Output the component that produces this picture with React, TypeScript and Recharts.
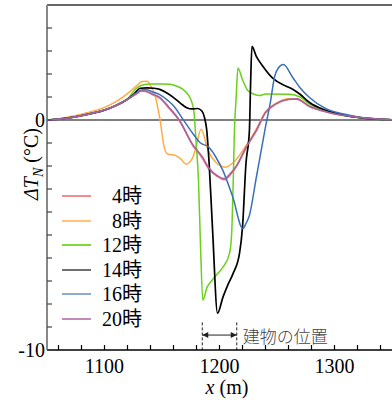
import { LineChart, Line, XAxis, YAxis, ReferenceLine, Legend } from 'recharts'

const SERIF = "'Liberation Serif', 'Times New Roman', 'Noto Sans CJK JP', serif"

// x positions (m) and temperature differences (°C) per hour
const H4_X = [1050, 1060, 1070, 1080, 1090, 1100, 1110, 1120, 1128, 1132, 1136, 1142, 1148, 1156, 1165, 1177, 1185, 1191, 1198, 1204, 1210, 1215, 1223, 1232, 1240, 1249, 1260, 1267, 1278, 1295, 1320, 1350]
const H4_Y = [0, 0.04, 0.1, 0.19, 0.3, 0.43, 0.63, 0.9, 1.15, 1.26, 1.24, 1.1, 0.95, 0.52, -0.02, -1.12, -1.65, -2.15, -2.45, -2.6, -2.35, -2.0, -1.22, -0.47, 0.31, 0.69, 0.89, 0.91, 0.6, 0.33, 0.12, 0.01]

const H8_X = [1050, 1060, 1070, 1080, 1090, 1100, 1110, 1120, 1127, 1133, 1137, 1140, 1144, 1148, 1152, 1155, 1162, 1166, 1171, 1176, 1179, 1184, 1190, 1197, 1205, 1212, 1223, 1232, 1240, 1249, 1260, 1268, 1278, 1295, 1320, 1350]
const H8_Y = [0, 0.06, 0.14, 0.25, 0.38, 0.55, 0.8, 1.15, 1.45, 1.67, 1.68, 1.5, 1.05, 0.1, -1.2, -1.48, -1.55, -1.68, -1.92, -1.7, -1.3, -0.4, -1.32, -1.85, -2.05, -1.85, -1.12, -0.4, 0.36, 0.72, 0.92, 0.9, 0.6, 0.33, 0.12, 0.01]

const H12_X = [1050, 1060, 1070, 1080, 1090, 1100, 1110, 1120, 1127, 1133, 1140, 1150, 1157, 1163, 1168, 1172, 1175, 1177.7, 1179.7, 1181.7, 1183.5, 1185.5, 1189, 1193, 1198, 1203, 1208.7, 1210.5, 1211.6, 1213, 1214.5, 1216, 1220, 1224.6, 1230, 1235, 1240, 1261, 1270, 1278, 1293, 1307, 1322, 1350]
const H12_Y = [0, 0.04, 0.1, 0.19, 0.3, 0.43, 0.63, 0.92, 1.35, 1.52, 1.57, 1.57, 1.55, 1.47, 1.34, 1.15, 0.9, 0.39, -1.0, -2.6, -5.5, -7.84, -7.3, -7.0, -6.7, -6.4, -5.8, -5.0, -3.35, -0.45, 1.0, 2.26, 1.75, 1.28, 1.12, 1.06, 1.13, 1.12, 1.0, 0.7, 0.38, 0.22, 0.1, 0.01]

const H14_X = [1050, 1060, 1070, 1080, 1090, 1100, 1110, 1120, 1126, 1131, 1137, 1143, 1148, 1155, 1162, 1168, 1172, 1176, 1181, 1184.5, 1187, 1188.8, 1191, 1194, 1198.3, 1203, 1207, 1211.6, 1217.4, 1220, 1223, 1226, 1227, 1228.2, 1232, 1237.7, 1246, 1258, 1264, 1270, 1278, 1293, 1307, 1322, 1350]
const H14_Y = [0, 0.04, 0.1, 0.19, 0.3, 0.43, 0.63, 0.9, 1.15, 1.38, 1.4, 1.38, 1.33, 1.15, 0.9, 0.65, 0.52, 0.48, 0.5, 0.4, 0.1, -0.4, -1.9, -4.8, -8.4, -7.7, -7.2, -6.7, -5.8, -4.66, -1.9, -0.47, 1.5, 3.2, 2.77, 2.34, 1.83, 1.47, 1.33, 1.12, 0.77, 0.41, 0.22, 0.1, 0.01]

const H16_X = [1050, 1060, 1070, 1080, 1090, 1100, 1110, 1120, 1128, 1132, 1136, 1142, 1148, 1155, 1160, 1168, 1177, 1183, 1191, 1197, 1203, 1211.6, 1220.3, 1223, 1226, 1232, 1236, 1240, 1244, 1248, 1251, 1255.5, 1263.7, 1270, 1278, 1293, 1307, 1322, 1350]
const H16_Y = [0, 0.04, 0.1, 0.19, 0.3, 0.43, 0.63, 0.9, 1.18, 1.3, 1.31, 1.22, 1.1, 0.85, 0.62, 0.05, -0.6, -0.98, -1.2, -1.63, -2.2, -3.36, -4.72, -4.5, -4.15, -2.5, -1.4, -0.3, 0.7, 1.9, 2.25, 2.41, 1.85, 1.4, 0.99, 0.48, 0.27, 0.12, 0.01]

const H20_X = H4_X
const H20_Y = [0, 0.04, 0.1, 0.19, 0.3, 0.43, 0.63, 0.9, 1.15, 1.27, 1.25, 1.12, 0.98, 0.55, 0.0, -1.1, -1.6, -2.1, -2.42, -2.55, -2.3, -1.97, -1.2, -0.45, 0.33, 0.7, 0.9, 0.92, 0.6, 0.33, 0.12, 0.01]

const X_TICKS = [1060, 1080, 1100, 1120, 1140, 1160, 1180, 1200, 1220, 1240, 1260, 1280, 1300, 1320, 1340]
const X_LABELS = [1100, 1200, 1300]
const Y_TICKS = [-10, -9, -8, -7, -6, -5, -4, -3, -2, -1, 0, 1, 2, 3, 4]
const Y_LABELS = [0, -10]
const BUILDING = [1185, 1215]

const zip = (xs: number[], ys: number[]) => xs.map((x, i) => ({ x, y: ys[i] }))

const SERIES = [
  { name: '4時', data: zip(H4_X, H4_Y), color: '#ee7b7b', legend: '#f28c8c', width: 1.6 },
  { name: '8時', data: zip(H8_X, H8_Y), color: '#ffab45', legend: '#ffc27a', width: 1.5 },
  { name: '12時', data: zip(H12_X, H12_Y), color: '#6ad01c', legend: '#80d83c', width: 1.5 },
  { name: '14時', data: zip(H14_X, H14_Y), color: '#000000', legend: '#707070', width: 1.7 },
  { name: '16時', data: zip(H16_X, H16_Y), color: '#3a70b8', legend: '#8eaad8', width: 1.5 },
  { name: '20時', data: zip(H20_X, H20_Y), color: '#a8639f', legend: '#c08abb', width: 1.6 },
]

const TICK_LEN = 5

// inward tick marks, drawn together with the (optional) label
const bottomTick = (p: any) => {
  const v = p.payload.value
  return (
    <g>
      <path d={`M${p.x},${p.y}V${p.y - TICK_LEN}`} stroke="#000" strokeWidth={1.2} fill="none" />
      {X_LABELS.includes(v) && (
        <text x={p.x} y={p.y + 23} textAnchor="middle" fontSize={20} fontFamily={SERIF} fill="#000">{v}</text>
      )}
    </g>
  )
}
const topTick = (p: any) => (
  <path d={`M${p.x},${p.y}V${p.y + TICK_LEN}`} stroke="#333" strokeWidth={1.2} fill="none" />
)
const leftTick = (p: any) => {
  const v = p.payload.value
  return (
    <g>
      <path d={`M${p.x},${p.y}H${p.x + TICK_LEN}`} stroke="#444" strokeWidth={1.2} fill="none" />
      {Y_LABELS.includes(v) && (
        <text x={p.x - 2} y={p.y + 7} textAnchor="end" fontSize={20} fontFamily={SERIF} fill="#000">{v}</text>
      )}
    </g>
  )
}
const rightTick = (p: any) => (
  <path d={`M${p.x},${p.y}H${p.x - TICK_LEN}`} stroke="#444" strokeWidth={1.2} fill="none" />
)

function BuildingArrow(p: any) {
  const { x1, y1, x2 } = p
  const l = Math.min(x1, x2)
  const r = Math.max(x1, x2)
  return (
    <g>
      <line x1={l} y1={y1} x2={r} y2={y1} stroke="#222" strokeWidth={1} />
      <path d={`M${l},${y1} l6,-3 v6 z`} fill="#222" />
      <path d={`M${r},${y1} l-6,-3 v6 z`} fill="#222" />
      <text x={r + 6} y={y1} dominantBaseline="central" fontSize={17} fill="#444"
        fontFamily="'Noto Sans CJK JP', sans-serif" fontWeight={300}>建物の位置</text>
    </g>
  )
}

const yLabel = () => (
  <text transform="translate(38,164) rotate(-90)" textAnchor="middle" fontSize={20} fontFamily={SERIF} fill="#000">
    <tspan fontStyle="italic">ΔT</tspan>
    <tspan fontStyle="italic" fontSize={14} dy={5}>N</tspan>
    <tspan dy={-5}> (°C)</tspan>
  </text>
)

const xLabel = () => (
  <text x={227} y={394} textAnchor="middle" fontSize={20} fontFamily={SERIF} fill="#000">
    <tspan fontStyle="italic">x</tspan> (m)
  </text>
)

const renderLegend = () => (
  <div style={{ fontFamily: SERIF, fontSize: 20, color: '#000' }}>
    {SERIES.map((s) => (
      <div key={s.name} style={{ display: 'flex', alignItems: 'center', height: 24.5 }}>
        <div style={{ width: 29, height: 2, background: s.legend }} />
        <div style={{ width: 51, textAlign: 'right', lineHeight: '24px' }}>{s.name}</div>
      </div>
    ))}
  </div>
)

export default function App() {
  return (
    <div style={{ position: 'absolute', left: 0, top: 0, width: 392, height: 403, background: '#fff' }}>
      <LineChart width={392} height={403} margin={{ top: 0, right: 0, bottom: 0, left: 0 }}>
        <XAxis
          type="number" dataKey="x" domain={[1050, 1350]} allowDataOverflow
          ticks={X_TICKS} interval={0} height={53} tickSize={0} tickMargin={0}
          tick={bottomTick} tickLine={false}
          axisLine={{ stroke: '#000', strokeWidth: 1.5 }}
          label={xLabel}
        />
        <XAxis
          xAxisId="top" orientation="top" type="number" domain={[1050, 1350]} allowDataOverflow
          ticks={X_TICKS} interval={0} height={5} tickSize={0} tickMargin={0}
          tick={topTick} tickLine={false} axisLine={{ stroke: '#333', strokeWidth: 1.5 }}
        />
        <YAxis
          type="number" domain={[-10, 5]} allowDataOverflow ticks={Y_TICKS} interval={0}
          width={47} tickSize={0} tickMargin={0}
          tick={leftTick} tickLine={false}
          axisLine={{ stroke: '#888', strokeWidth: 2 }}
          label={yLabel}
        />
        <YAxis
          yAxisId="right" orientation="right" type="number" domain={[-10, 5]} allowDataOverflow
          ticks={Y_TICKS} interval={0} width={0} tickSize={0} tickMargin={0}
          tick={rightTick} tickLine={false} axisLine={{ stroke: '#333' }}
        />
        <ReferenceLine y={0} stroke="#555" strokeWidth={1.5} />
        <ReferenceLine segment={[{ x: BUILDING[0], y: -8.8 }, { x: BUILDING[0], y: -10 }]} stroke="#222" strokeDasharray="3 2" />
        <ReferenceLine segment={[{ x: BUILDING[1], y: -8.8 }, { x: BUILDING[1], y: -10 }]} stroke="#222" strokeDasharray="3 2" />
        <ReferenceLine segment={[{ x: BUILDING[0], y: -9.35 }, { x: BUILDING[1], y: -9.35 }]} shape={BuildingArrow} />
        {SERIES.map((s) => (
          <Line
            key={s.name} name={s.name} data={s.data} dataKey="y" type="monotone"
            stroke={s.color} strokeWidth={s.width} dot={false} activeDot={false}
            isAnimationActive={false}
          />
        ))}
        <Legend
          layout="horizontal" verticalAlign="middle" align="center"
          content={renderLegend}
          wrapperStyle={{ left: 62, top: 184, width: 90 }}
        />
      </LineChart>
    </div>
  )
}
